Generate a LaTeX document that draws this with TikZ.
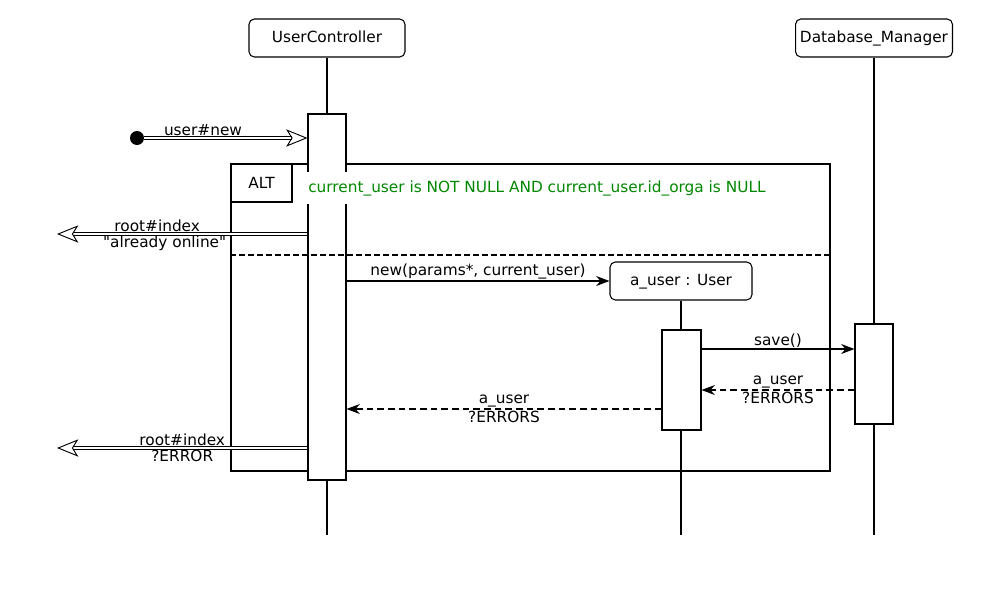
\documentclass[tikz,border=0pt]{standalone}
\usepackage{fontspec}
\setmainfont{DejaVu Sans}[Ligatures=TeXOff]
\usetikzlibrary{arrows.meta,positioning,calc}
\definecolor{GuardGreen}{RGB}{0,136,0}

\begin{document}
\begin{tikzpicture}[
  x=0.75pt,y=-0.75pt,
  font=\fontsize{11.5}{13}\selectfont,
  head/.style={draw,rounded corners=4pt,minimum width=117pt,minimum height=28.5pt,line width=0.8pt,fill=white,
               text height=8.5pt,text depth=2.5pt},
  act/.style={draw,fill=white,minimum width=28.5pt,inner sep=0pt,line width=0.8pt},
  life/.style={line width=0.8pt},
  lbl/.style={inner sep=1pt},
  call/.style={-{Stealth[length=10pt,width=7.5pt]},line width=0.8pt},
  ret/.style={call,dash pattern=on 5pt off 3pt},
  ext/.style={double,double distance=2pt,line width=0.7pt,-{Stealth[open,length=16pt,width=13pt,inset=4pt]}}
]
\useasboundingbox (0,0) rectangle (1000,593);
% lifelines
\node[head] (uc) at (327,38) {UserController};
\node[head] (db) at (874,38) {Database\_Manager};
\node[head,minimum width=106.5pt] (au) at (681,281) {a\_user : User};
\coordinate (ucend) at (327,535); \coordinate (dbend) at (874,535); \coordinate (auend) at (681,535);
\draw[life] (uc)--(ucend); \draw[life] (db)--(dbend); \draw[life] (au)--(auend);
% alt frame
\node[draw,line width=0.8pt,minimum width=449.25pt,minimum height=230.25pt,inner sep=0pt] (alt) at (530.5,317.5) {};
% activations
\node[act,minimum height=274.5pt] (ucact) at (327,297) {};
\node[act,minimum height=75pt,minimum width=29.25pt] (auact) at (681.5,380) {};
\node[act,minimum height=75pt] (dbact) at (874,374) {};
\coordinate (ysep) at (0,255);
\draw[line width=0.8pt,dash pattern=on 4.5pt off 2.25pt] (alt.west |- ysep)--(alt.east |- ysep);
\node[anchor=west,fill=white,text=GuardGreen,inner xsep=3pt,inner ysep=6pt] (guard) at (304,188) {current\_user is NOT NULL AND current\_user.id\_orga is NULL};
\node[draw,fill=white,line width=0.8pt,minimum width=45.75pt,minimum height=28.5pt,anchor=north west] (alttab) at (alt.north west) {ALT};
% messages
\node[circle,fill,inner sep=0pt,minimum size=10.5pt] (start) at (137,138) {};
\draw[ext] (start)--(ucact.west |- start) node[lbl,above,pos=0.36] {user\#new};
\coordinate (exit1) at (57,234); \coordinate (exit2) at (57,448);
\draw[ext] (ucact.west |- exit1)--(exit1) node[lbl,above,pos=0.6] {root\#index} node[lbl,below,pos=0.57] {"already online"};
\draw[call] (ucact.east |- au)--(au.west) node[lbl,above,midway] {new(params*, current\_user)};
\coordinate (ysave) at (0,349); \coordinate (yret1) at (0,390); \coordinate (yret2) at (0,409);
\draw[call] (auact.east |- ysave)--(dbact.west |- ysave) node[lbl,above,midway] {save()};
\draw[ret] (dbact.west |- yret1)--(auact.east |- yret1) node[lbl,above,midway] {a\_user} node[lbl,below,midway] {?ERRORS};
\draw[ret] (auact.west |- yret2)--(ucact.east |- yret2) node[lbl,above,midway] {a\_user} node[lbl,below,midway] {?ERRORS};
\draw[ext] (ucact.west |- exit2)--(exit2) node[lbl,above,pos=0.5] {root\#index} node[lbl,below,pos=0.5] {?ERROR};
\end{tikzpicture}
\end{document}
